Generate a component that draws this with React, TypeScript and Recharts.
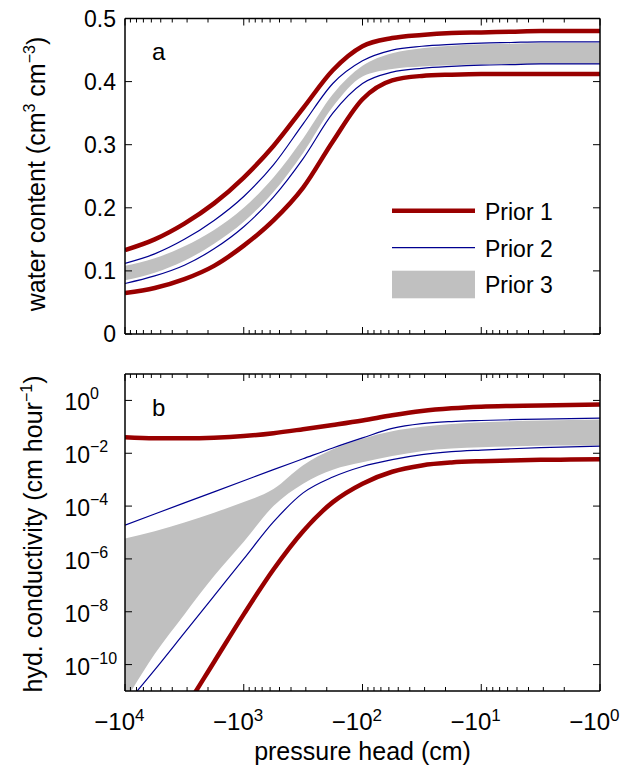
import React from "react"
import { ComposedChart, Line, Area, XAxis, YAxis, Legend } from "recharts"

// log10 |h| for pressure head h (cm), from -10^4 to -10^0
const logHead = [4, 3.75, 3.5, 3.25, 3, 2.75, 2.5, 2.25, 2, 1.75, 1.5, 1.25, 1, 0.75, 0.5, 0.25, 0]

// panel a: water content (cm3 cm-3)
const thetaP1Hi = [0.133, 0.15, 0.175, 0.207, 0.248, 0.298, 0.358, 0.418, 0.456, 0.469, 0.474, 0.477, 0.478, 0.479, 0.48, 0.48, 0.48]
const thetaP1Lo = [0.065, 0.073, 0.087, 0.108, 0.14, 0.18, 0.232, 0.305, 0.372, 0.402, 0.409, 0.411, 0.412, 0.412, 0.412, 0.412, 0.412]
const thetaP2Hi = [0.112, 0.127, 0.15, 0.18, 0.218, 0.268, 0.333, 0.397, 0.433, 0.45, 0.456, 0.459, 0.461, 0.462, 0.463, 0.463, 0.463]
const thetaP2Lo = [0.08, 0.092, 0.109, 0.135, 0.17, 0.217, 0.278, 0.35, 0.397, 0.415, 0.421, 0.424, 0.426, 0.427, 0.428, 0.428, 0.428]
const thetaP3Hi = [0.108, 0.12, 0.139, 0.165, 0.2, 0.248, 0.31, 0.38, 0.425, 0.445, 0.453, 0.457, 0.459, 0.46, 0.461, 0.461, 0.461]
const thetaP3Lo = [0.085, 0.097, 0.116, 0.143, 0.178, 0.225, 0.287, 0.36, 0.408, 0.42, 0.424, 0.426, 0.427, 0.428, 0.428, 0.428, 0.428]

// panel b: log10 of hydraulic conductivity (cm hour-1)
const kP1Hi = [-1.39, -1.43, -1.43, -1.41, -1.35, -1.24, -1.09, -0.93, -0.76, -0.56, -0.4, -0.3, -0.24, -0.21, -0.19, -0.17, -0.15]
const kP1Lo = [-15.2, -13.4, -11.7, -9.9, -8.1, -6.4, -4.95, -3.85, -3.15, -2.7, -2.46, -2.35, -2.3, -2.27, -2.25, -2.24, -2.23]
const kP2Hi = [-4.72, -4.3, -3.88, -3.46, -3.04, -2.62, -2.21, -1.8, -1.42, -1.06, -0.88, -0.8, -0.76, -0.73, -0.71, -0.69, -0.67]
const kP2Lo = [-11.55, -10.2, -8.8, -7.4, -6.0, -4.6, -3.5, -2.9, -2.5, -2.24, -2.05, -1.94, -1.88, -1.83, -1.79, -1.76, -1.73]
const kP3Hi = [-5.23, -4.95, -4.62, -4.25, -3.85, -3.35, -2.45, -1.85, -1.45, -1.17, -1.0, -0.89, -0.83, -0.79, -0.76, -0.74, -0.72]
const kP3Lo = [-11.4, -9.6, -8.1, -6.65, -5.35, -4.0, -3.15, -2.62, -2.34, -2.1, -1.92, -1.82, -1.77, -1.74, -1.72, -1.71, -1.7]

const xMajor = [0, 1, 2, 3, 4]
const yTicksA = [0, 0.1, 0.2, 0.3, 0.4, 0.5]
const yTicksB = [-10, -8, -6, -4, -2, 0]
const legendNames = ["Prior 1", "Prior 2", "Prior 3"]

// log minor ticks 2..9 within each decade
const xMinor: number[] = []
for (let d = 0; d < 4; d++) for (let k = 2; k <= 9; k++) xMinor.push(d + Math.log10(k))
const xTicks = [...xMajor, ...xMinor]

const RED = "#990000"
const BLUE = "#000090"
const GREY = "#c0c0c0"
const FONT = "'Liberation Sans', Arial, sans-serif"

const dataA = logHead.map((L, i) => ({
  L,
  p1Hi: thetaP1Hi[i],
  p1Lo: thetaP1Lo[i],
  p2Hi: thetaP2Hi[i],
  p2Lo: thetaP2Lo[i],
  p3: [thetaP3Lo[i], thetaP3Hi[i]],
}))

const dataB = logHead.map((L, i) => ({
  L,
  p1Hi: kP1Hi[i],
  p1Lo: kP1Lo[i],
  p2Hi: kP2Hi[i],
  p2Lo: kP2Lo[i],
  p3: [kP3Lo[i], kP3Hi[i]],
}))

const isMajor = (v: number) => Math.abs(v - Math.round(v)) < 1e-9
const MAJ = 7
const MIN = 4

function XTick(props: any) {
  const { x, y, payload, top, showLabel } = props
  const v = payload.value
  const len = isMajor(v) ? MAJ : MIN
  const y2 = top ? y + len : y - len
  return (
    <g>
      <line x1={x} x2={x} y1={y} y2={y2} stroke="#000" strokeWidth={1} />
      {showLabel && isMajor(v) && (
        <g fontFamily={FONT} fill="#000">
          <text x={x + 10} y={y + 39} textAnchor="end" fontSize={24}>
            −10
          </text>
          <text x={x + 10} y={y + 30} textAnchor="start" fontSize={17}>
            {Math.round(v)}
          </text>
        </g>
      )}
    </g>
  )
}

function YTickA(props: any) {
  const { x, y, payload, right } = props
  return (
    <g>
      <line x1={x} x2={right ? x - MAJ : x + MAJ} y1={y} y2={y} stroke="#000" strokeWidth={1} />
      {!right && (
        <text x={x - 9} y={y + 8} textAnchor="end" fontSize={23} fontFamily={FONT} fill="#000">
          {payload.value === 0 ? "0" : payload.value.toFixed(1)}
        </text>
      )}
    </g>
  )
}

function YTickB(props: any) {
  const { x, y, payload, right } = props
  const v = Math.round(payload.value)
  return (
    <g>
      <line x1={x} x2={right ? x - MAJ : x + MAJ} y1={y} y2={y} stroke="#000" strokeWidth={1} />
      {!right && (
        <g fontFamily={FONT} fill="#000">
          <text x={x - 35} y={y + 10} textAnchor="end" fontSize={23}>
            10
          </text>
          <text x={x - 35} y={y - 1} textAnchor="start" fontSize={16}>
            {v === 0 ? "0" : "−" + Math.abs(v)}
          </text>
        </g>
      )}
    </g>
  )
}

function LegendBox() {
  return (
    <svg width={200} height={110} style={{ fontFamily: FONT }}>
      <line x1={7} x2={90} y1={15.7} y2={15.7} stroke={RED} strokeWidth={4.5} />
      <text x={100} y={25} fontSize={23}>{legendNames[0]}</text>
      <line x1={7} x2={90} y1={52.7} y2={52.7} stroke={BLUE} strokeWidth={1.2} />
      <text x={100} y={61.7} fontSize={23}>{legendNames[1]}</text>
      <rect x={7} y={75.7} width={83} height={27.6} fill={GREY} />
      <text x={100} y={98.3} fontSize={23}>{legendNames[2]}</text>
    </svg>
  )
}

const axisLine = { stroke: "#000", strokeWidth: 1.5 }

// axes are 1px thick so they render; ticks are drawn inward by hand
function Axes({ yTicks, yDomain, YTick, bottomLabels }: any) {
  return [
    <XAxis key="xb" dataKey="L" type="number" domain={[0, 4]} reversed allowDataOverflow ticks={xTicks} interval={0}
      height={1} tickSize={0} tickMargin={0} tickLine={false} axisLine={axisLine}
      tick={(p: any) => <XTick {...p} showLabel={bottomLabels} />} />,
    <XAxis key="xt" xAxisId="top" orientation="top" dataKey="L" type="number" domain={[0, 4]} reversed allowDataOverflow
      ticks={xTicks} interval={0} height={1} tickSize={0} tickMargin={0} tickLine={false} axisLine={axisLine}
      tick={(p: any) => <XTick {...p} top />} />,
    <YAxis key="yl" type="number" domain={yDomain} allowDataOverflow ticks={yTicks} interval={0} width={1}
      tickSize={0} tickMargin={0} tickLine={false} axisLine={axisLine} tick={(p: any) => <YTick {...p} />} />,
    <YAxis key="yr" yAxisId="right" orientation="right" type="number" domain={yDomain} allowDataOverflow ticks={yTicks}
      interval={0} width={1} tickSize={0} tickMargin={0} tickLine={false} axisLine={axisLine}
      tick={(p: any) => <YTick {...p} right />} />,
  ]
}

function Series() {
  return [
    <Area key="p3" type="monotone" dataKey="p3" stroke="none" fill={GREY} fillOpacity={1} isAnimationActive={false} />,
    <Line key="p2Hi" type="monotone" dataKey="p2Hi" stroke={BLUE} strokeWidth={1.2} dot={false} isAnimationActive={false} />,
    <Line key="p2Lo" type="monotone" dataKey="p2Lo" stroke={BLUE} strokeWidth={1.2} dot={false} isAnimationActive={false} />,
    <Line key="p1Hi" type="monotone" dataKey="p1Hi" stroke={RED} strokeWidth={4.5} dot={false} isAnimationActive={false} />,
    <Line key="p1Lo" type="monotone" dataKey="p1Lo" stroke={RED} strokeWidth={4.5} dot={false} isAnimationActive={false} />,
  ]
}

export default function App() {
  return (
    <div style={{ position: "absolute", left: 0, top: 0, width: 629, height: 768, background: "#fff", fontFamily: FONT }}>
      <div style={{ position: "absolute", left: 0, top: 0 }}>
        <ComposedChart width={629} height={352} data={dataA} margin={{ top: 17.5, right: 28, bottom: 17, left: 124 }}>
          {Axes({ yTicks: yTicksA, yDomain: [0, 0.5], YTick: YTickA, bottomLabels: false })}
          {Series()}
          <Legend layout="vertical" align="center" verticalAlign="middle" content={() => <LegendBox />}
            wrapperStyle={{ left: 385, top: 195, width: 200, height: 110 }} />
        </ComposedChart>
      </div>
      <div style={{ position: "absolute", left: 0, top: 352 }}>
        <ComposedChart width={629} height={416} data={dataB} margin={{ top: 21, right: 28, bottom: 76, left: 124 }}>
          {Axes({ yTicks: yTicksB, yDomain: [-11, 1], YTick: YTickB, bottomLabels: true })}
          {Series()}
        </ComposedChart>
      </div>
      <svg width={629} height={768} style={{ position: "absolute", left: 0, top: 0, pointerEvents: "none" }}>
        <g fontFamily={FONT} fill="#000">
          <text x={152} y={60} fontSize={24}>a</text>
          <text x={152} y={416} fontSize={24}>b</text>
          <text x={45} y={174} transform="rotate(-90 45 174)" textAnchor="middle" fontSize={25}>
            water content (cm<tspan dy={-10} fontSize={16}>3</tspan>
            <tspan dy={10}> cm</tspan>
            <tspan dy={-10} fontSize={16}>−3</tspan>
            <tspan dy={10}>)</tspan>
          </text>
          <text x={42} y={534} transform="rotate(-90 42 534)" textAnchor="middle" fontSize={25}>
            hyd. conductivity (cm hour<tspan dy={-10} fontSize={16}>−1</tspan>
            <tspan dy={10}>)</tspan>
          </text>
          <text x={362.5} y={760} textAnchor="middle" fontSize={25}>pressure head (cm)</text>
        </g>
      </svg>
    </div>
  )
}
